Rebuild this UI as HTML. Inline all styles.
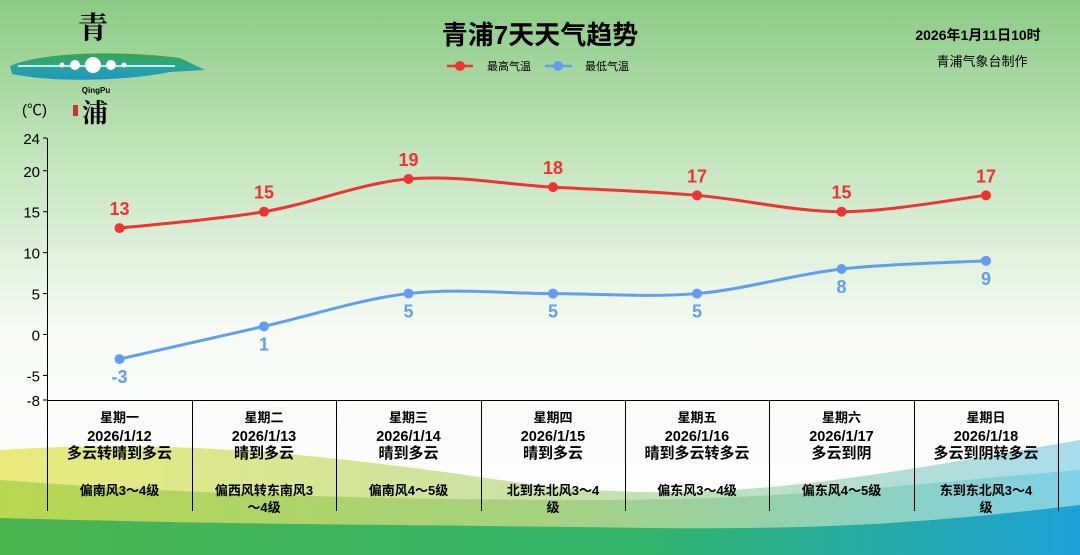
<!DOCTYPE html>
<html><head><meta charset="utf-8"><style>
body{margin:0;width:1080px;height:555px;overflow:hidden;font-family:"Liberation Sans","Noto Sans CJK SC",sans-serif}
svg{display:block}
</style></head><body>
<svg id="s" width="1080" height="555" xmlns="http://www.w3.org/2000/svg" font-family="Liberation Sans, Noto Sans CJK SC, sans-serif">
<defs>
<linearGradient id="bg" x1="0" y1="0" x2="0" y2="1">
<stop offset="0" stop-color="#8bcb85"/><stop offset="0.3" stop-color="#c6e6c0"/><stop offset="0.6" stop-color="#f7fbf5"/><stop offset="1" stop-color="#ffffff"/></linearGradient>
<linearGradient id="w1" x1="0" y1="0" x2="1" y2="0"><stop offset="0" stop-color="#e9ea7c"/><stop offset="0.5" stop-color="#c9e2a6"/><stop offset="1" stop-color="#a8dcee"/></linearGradient>
<linearGradient id="w2" x1="0" y1="0" x2="1" y2="0"><stop offset="0" stop-color="#b3d54c"/><stop offset="0.5" stop-color="#a2cf7a"/><stop offset="1" stop-color="#7ad0e6"/></linearGradient>
<linearGradient id="w3" x1="0" y1="0" x2="1" y2="0"><stop offset="0" stop-color="#4cb44f"/><stop offset="0.6" stop-color="#31b46c"/><stop offset="1" stop-color="#1da2d8"/></linearGradient>
<linearGradient id="lg" x1="0" y1="0" x2="0" y2="1"><stop offset="0" stop-color="#3aa64a"/><stop offset="0.5" stop-color="#2aa596"/><stop offset="1" stop-color="#2196c8"/></linearGradient>
</defs>
<rect width="1080" height="555" fill="url(#bg)"/>
<path d="M0,450 C150,440 300,450 500,480 C700,510 850,480 1080,440 L1080,555 L0,555Z" fill="url(#w1)"/>
<path d="M0,480 C200,495 400,500 600,500 C800,500 950,480 1080,470 L1080,555 L0,555Z" fill="url(#w2)" opacity="0.9"/>
<path d="M0,518 C250,525 450,525 650,528 C850,530 950,520 1080,505 L1080,555 L0,555Z" fill="url(#w3)"/>
<text x="93" y="38" font-size="30" font-family="Noto Serif CJK SC, serif" font-weight="bold" text-anchor="middle">青</text>
<path d="M10,66 C40,52 120,50 180,58 L205,70 L170,72 C120,82 50,82 12,74Z" fill="url(#lg)"/>
<line x1="18" y1="66" x2="175" y2="66" stroke="#fff" stroke-width="1.5"/>
<circle cx="93" cy="65" r="8" fill="#fff"/><circle cx="75" cy="65" r="5" fill="#fff"/><circle cx="111" cy="65" r="5" fill="#fff"/><circle cx="62" cy="65" r="2.5" fill="#fff"/><circle cx="124" cy="65" r="2.5" fill="#fff"/>
<text x="96" y="93" font-size="8" font-weight="bold" text-anchor="middle">QingPu</text>
<rect x="73" y="105" width="5" height="11" fill="#c33"/>
<text x="95" y="122" font-size="26" font-family="Noto Serif CJK SC, serif" font-weight="bold" text-anchor="middle">浦</text>
<text x="540" y="44" font-size="26" font-weight="bold" text-anchor="middle">青浦7天天气趋势</text>
<line x1="447" y1="66" x2="473" y2="66" stroke="#ee3332" stroke-width="2.5"/><circle cx="460" cy="66" r="5" fill="#ee3332"/>
<text x="487" y="70" font-size="11">最高气温</text>
<line x1="545" y1="66" x2="572" y2="66" stroke="#619ef0" stroke-width="2.5"/><circle cx="558" cy="66" r="5" fill="#619ef0"/>
<text x="585" y="70" font-size="11">最低气温</text>
<text x="978" y="40" font-size="14" font-weight="bold" text-anchor="middle">2026年1月11日10时</text>
<text x="982" y="66" font-size="13" text-anchor="middle">青浦气象台制作</text>
<text x="22" y="115" font-size="15">(℃)</text>
<g id="ax" stroke="#000" stroke-width="1"></g>
<g id="tx" font-size="15" text-anchor="end"></g>
<g id="tb" font-size="13" font-weight="bold" text-anchor="middle"></g>
<path id="hp" fill="none" stroke="#ee3332" stroke-width="3"/>
<path id="lp" fill="none" stroke="#619ef0" stroke-width="3"/>
<g id="pt"></g>
</svg>
<script>
var NS="http://www.w3.org/2000/svg";
function el(p,t,a,txt){var e=document.createElementNS(NS,t);for(var k in a)e.setAttribute(k,a[k]);if(txt!=null)e.textContent=txt;document.getElementById(p).appendChild(e);return e;}
function Y(v){return 334.5-8.1875*v;}
el('ax','line',{x1:47.5,y1:138,x2:47.5,y2:511});
el('ax','line',{x1:47,y1:400.5,x2:1058,y2:400.5});
[24,20,15,10,5,0,-5,-8].forEach(function(v){var y=Y(v);el('ax','line',{x1:43,y1:y,x2:47,y2:y});el('tx','text',{x:40,y:y+6},v);});
var xs=[],b=[47,192,336,481,625,769,914,1058];
for(var i=0;i<8;i++){el('ax','line',{x1:b[i]+.5,y1:400,x2:b[i]+.5,y2:511});}
for(i=0;i<7;i++)xs.push((b[i]+b[i+1])/2);
var days=['星期一','星期二','星期三','星期四','星期五','星期六','星期日'],
dates=['2026/1/12','2026/1/13','2026/1/14','2026/1/15','2026/1/16','2026/1/17','2026/1/18'],
wx=['多云转晴到多云','晴到多云','晴到多云','晴到多云','晴到多云转多云','多云到阴','多云到阴转多云'],
wd=[['偏南风3～4级'],['偏西风转东南风3','～4级'],['偏南风4～5级'],['北到东北风3～4','级'],['偏东风3～4级'],['偏东风4～5级'],['东到东北风3～4','级']];
for(i=0;i<7;i++){var x=xs[i];el('tb','text',{x:x,y:422},days[i]);el('tb','text',{x:x,y:441,'font-size':14.5},dates[i]);el('tb','text',{x:x,y:458,'font-size':15},wx[i]);
wd[i].forEach(function(t,j){el('tb','text',{x:x,y:495+j*17,'font-size':13},t);});}
function path(v){var p=v.map(function(a,i){return [xs[i],Y(a)];}),d='M'+p[0];
for(var i=0;i<p.length-1;i++){var a=p[i-1]||p[i],c=p[i+2]||p[i+1],q=p[i],r=p[i+1];
d+=' C'+(q[0]+(r[0]-a[0])/6)+','+(q[1]+(r[1]-a[1])/6)+' '+(r[0]-(c[0]-q[0])/6)+','+(r[1]-(c[1]-q[1])/6)+' '+r;}return d;}
var hi=[13,15,19,18,17,15,17],lo=[-3,1,5,5,5,8,9];
document.getElementById('hp').setAttribute('d',path(hi));
document.getElementById('lp').setAttribute('d',path(lo));
for(i=0;i<7;i++){el('pt','circle',{cx:xs[i],cy:Y(hi[i]),r:5,fill:'#ee3332'});
el('pt','text',{x:xs[i],y:Y(hi[i])-13,'font-size':18,'font-weight':'bold',fill:'#ee3332','text-anchor':'middle'},hi[i]);
el('pt','circle',{cx:xs[i],cy:Y(lo[i]),r:5,fill:'#619ef0'});
el('pt','text',{x:xs[i],y:Y(lo[i])+24,'font-size':18,'font-weight':'bold',fill:'#619ef0','text-anchor':'middle'},lo[i]);}
</script>
</body></html>
